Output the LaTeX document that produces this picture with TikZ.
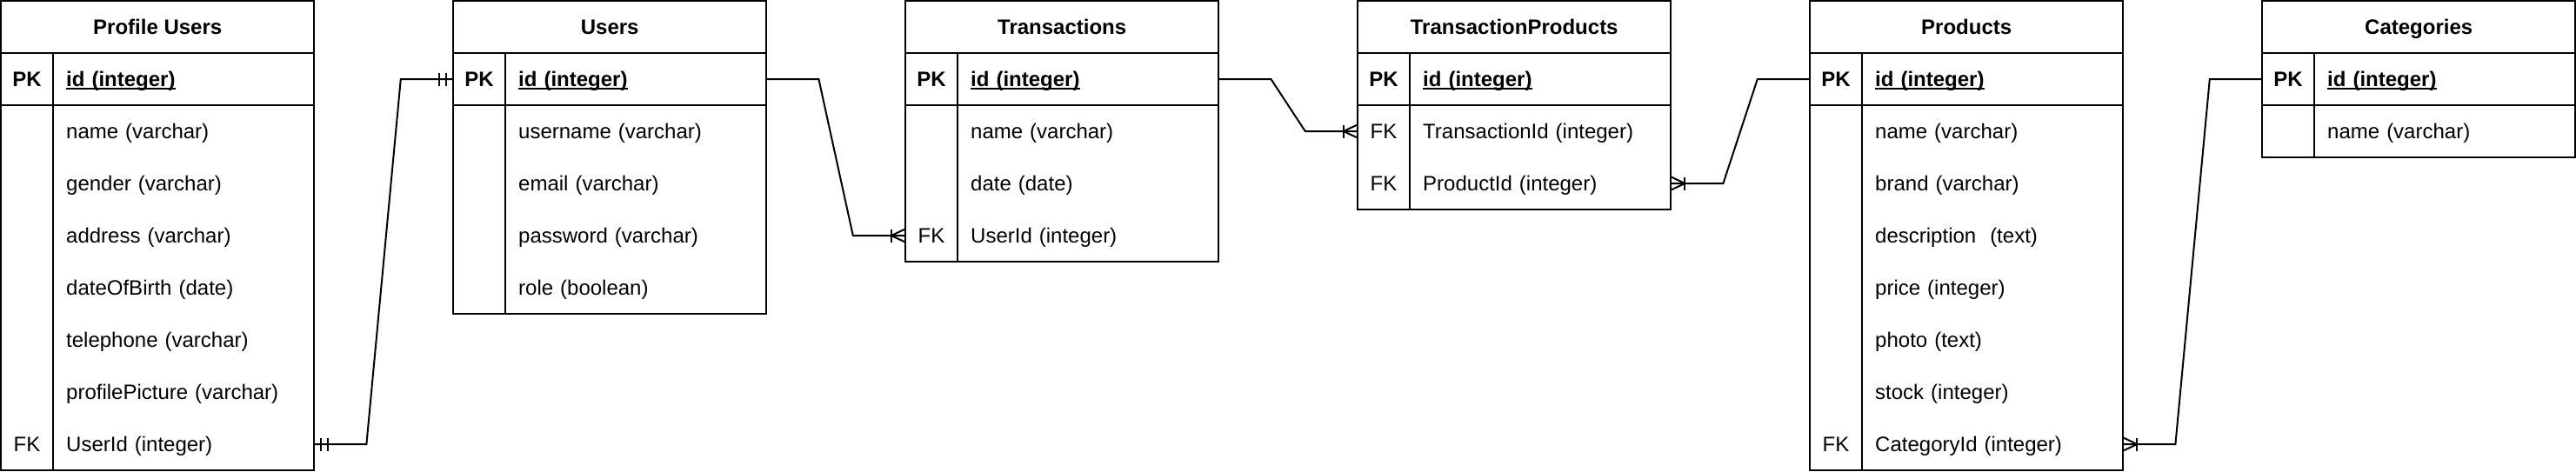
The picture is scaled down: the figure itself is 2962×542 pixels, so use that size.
\documentclass[tikz,border=0pt]{standalone}
\usepackage{fontspec}
\setmainfont{Liberation Sans}
\usetikzlibrary{calc}
\newcommand\erfont{\fontsize{24}{29}\selectfont}
\newcommand\ulbold[1]{\setbox0\hbox{#1}\rlap{\rule[-3.5pt]{\wd0}{1.6pt}}\box0}
\tikzset{
 frame/.style={draw=black, line width=2pt},
 conn/.style={draw=black, line width=2pt},
 titlecell/.style={minimum width=360pt, minimum height=60pt, inner sep=0pt, font=\erfont\bfseries, text height=17pt, text depth=0pt},
 keycell/.style={minimum width=60pt, minimum height=60pt, inner sep=0pt, font=\erfont, text height=17pt, text depth=0pt},
 fieldcell/.style={minimum height=60pt, text width=270pt, inner xsep=15pt, inner ysep=0pt, align=left, font=\erfont, text height=17pt, text depth=0pt},
}
% title: name, x, text
\newcommand\ertitle[3]{\node[titlecell, anchor=north west] (#1) at (#2,-1) {#3};}
% row: prefix, index, x, key, field
\newcommand\errow[5]{%
  \node[keycell] (#1k#2) at ({#3+30},{-91-60*#2}) {#4};
  \node[fieldcell, anchor=west] (#1f#2) at ({#3+60},{-91-60*#2}) {#5};}
% frame: x, number of non-PK rows
\newcommand\erframe[2]{%
  \draw[frame] (#1,-1) rectangle ({#1+360},{-121-60*#2});
  \draw[frame] (#1,-61) -- ({#1+360},-61);
  \draw[frame] (#1,-121) -- ({#1+360},-121);
  \draw[frame] ({#1+60},-61) -- ({#1+60},{-121-60*#2});}
% crow's foot with bar: anchor, direction of the line (1 right, -1 left)
\newcommand\crowfoot[2]{%
  \draw[conn] ($(#1)+(#2*16,7.5)$) -- ($(#1)+(#2*16,-7.5)$);
  \draw[conn] ($(#1)+(0,7.5)$) -- ($(#1)+(#2*16,0)$) -- ($(#1)+(0,-7.5)$);}
% mandatory one: anchor, direction
\newcommand\mandone[2]{%
  \draw[conn] ($(#1)+(#2*8,7.5)$) -- ($(#1)+(#2*8,-7.5)$);
  \draw[conn] ($(#1)+(#2*16,7.5)$) -- ($(#1)+(#2*16,-7.5)$);}
\begin{document}
\begin{tikzpicture}[x=1pt,y=1pt]
\useasboundingbox (0,0) rectangle (2962,-542);
\fill[white] (0,0) rectangle (2962,-542);

% Profile Users
\erframe{1}{7}
\ertitle{pu}{1}{Profile Users}
\errow{pu}{0}{1}{\textbf{PK}}{\textbf{\ulbold{id (integer)}}}
\errow{pu}{1}{1}{}{name (varchar)}
\errow{pu}{2}{1}{}{gender (varchar)}
\errow{pu}{3}{1}{}{address (varchar)}
\errow{pu}{4}{1}{}{dateOfBirth (date)}
\errow{pu}{5}{1}{}{telephone (varchar)}
\errow{pu}{6}{1}{}{profilePicture (varchar)}
\errow{pu}{7}{1}{FK}{UserId (integer)}

% Users
\erframe{521}{4}
\ertitle{us}{521}{Users}
\errow{us}{0}{521}{\textbf{PK}}{\textbf{\ulbold{id (integer)}}}
\errow{us}{1}{521}{}{username (varchar)}
\errow{us}{2}{521}{}{email (varchar)}
\errow{us}{3}{521}{}{password (varchar)}
\errow{us}{4}{521}{}{role (boolean)}

% Transactions
\erframe{1041}{3}
\ertitle{tr}{1041}{Transactions}
\errow{tr}{0}{1041}{\textbf{PK}}{\textbf{\ulbold{id (integer)}}}
\errow{tr}{1}{1041}{}{name (varchar)}
\errow{tr}{2}{1041}{}{date (date)}
\errow{tr}{3}{1041}{FK}{UserId (integer)}

% TransactionProducts
\erframe{1561}{2}
\ertitle{tp}{1561}{TransactionProducts}
\errow{tp}{0}{1561}{\textbf{PK}}{\textbf{\ulbold{id (integer)}}}
\errow{tp}{1}{1561}{FK}{TransactionId (integer)}
\errow{tp}{2}{1561}{FK}{ProductId (integer)}

% Products
\erframe{2081}{7}
\ertitle{pr}{2081}{Products}
\errow{pr}{0}{2081}{\textbf{PK}}{\textbf{\ulbold{id (integer)}}}
\errow{pr}{1}{2081}{}{name (varchar)}
\errow{pr}{2}{2081}{}{brand (varchar)}
\errow{pr}{3}{2081}{}{description\ \ (text)}
\errow{pr}{4}{2081}{}{price (integer)}
\errow{pr}{5}{2081}{}{photo (text)}
\errow{pr}{6}{2081}{}{stock (integer)}
\errow{pr}{7}{2081}{FK}{CategoryId (integer)}

% Categories
\erframe{2601}{1}
\ertitle{ca}{2601}{Categories}
\errow{ca}{0}{2601}{\textbf{PK}}{\textbf{\ulbold{id (integer)}}}
\errow{ca}{1}{2601}{}{name (varchar)}

% Connectors
\draw[conn] (puf7.east) -- ++(60,0) -- ($(usk0.west)+(-60,0)$) -- (usk0.west);
\mandone{puf7.east}{1}
\mandone{usk0.west}{-1}

\draw[conn] (usf0.east) -- ++(60,0) -- ($(trk3.west)+(-60,0)$) -- (trk3.west);
\crowfoot{trk3.west}{-1}

\draw[conn] (trf0.east) -- ++(60,0) -- ($(tpk1.west)+(-60,0)$) -- (tpk1.west);
\crowfoot{tpk1.west}{-1}

\draw[conn] (tpf2.east) -- ++(60,0) -- ($(prk0.west)+(-60,0)$) -- (prk0.west);
\crowfoot{tpf2.east}{1}

\draw[conn] (prf7.east) -- ++(60,0) -- ($(cak0.west)+(-60,0)$) -- (cak0.west);
\crowfoot{prf7.east}{1}
\end{tikzpicture}
\end{document}
